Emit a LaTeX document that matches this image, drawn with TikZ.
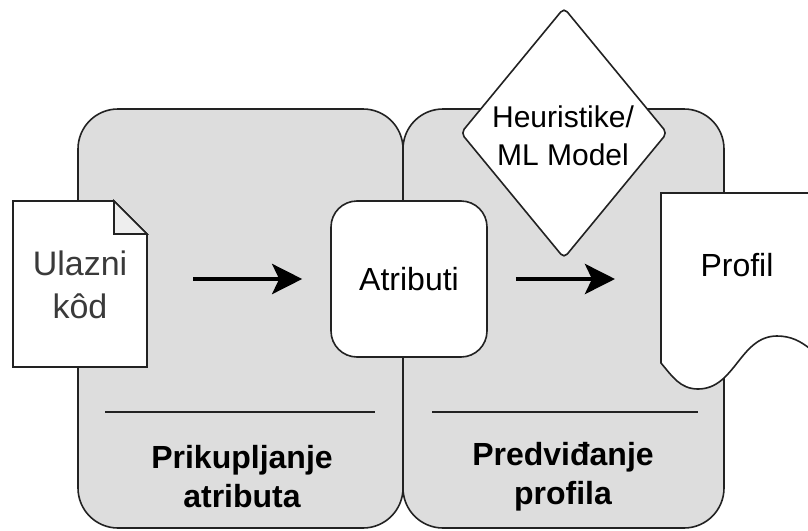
\documentclass[tikz,border=0pt]{standalone}
\usepackage{fontspec}
\setmainfont{Liberation Sans}
\usetikzlibrary{arrows.meta}
\definecolor{panelgray}{HTML}{DDDDDD}
\definecolor{foldgray}{HTML}{EEEEEE}
\definecolor{linegray}{HTML}{222222}
\definecolor{doctext}{HTML}{3A3A3A}
\tikzset{
  panel/.style={draw=linegray, line width=1.6pt, fill=panelgray, rounded corners=40pt},
  sep/.style={draw=linegray, line width=1.4pt},
  shapeline/.style={draw=linegray, line width=1.6pt, fill=white},
  bigarrow/.style={line width=4.5pt, -{Stealth[length=30pt,width=30pt,inset=7pt]}},
  lbl/.style={align=center, inner sep=0pt},
}
\begin{document}
\begin{tikzpicture}[x=1pt,y=-1pt]
\useasboundingbox (0,0) rectangle (808,530);
\clip (0,0) rectangle (808,530);
% panels
\path[panel] (78,109) rectangle (403,528);
\path[panel] (403,109) rectangle (724,528);
\coordinate (s1a) at (105,412); \coordinate (s1b) at (375,412);
\coordinate (s2a) at (432,412); \coordinate (s2b) at (698,412);
\draw[sep] (s1a) -- (s1b);
\draw[sep] (s2a) -- (s2b);
\node[lbl, font=\bfseries\fontsize{32}{39}\selectfont] (lab1) at (242,477) {Prikupljanje\\atributa};
\node[lbl, font=\bfseries\fontsize{32}{39}\selectfont] (lab2) at (563,477) {Predviđanje\\profila};
% document (input code)
\node[minimum width=134pt, minimum height=166pt, inner sep=0pt] (doc) at (80,284) {};
\draw[shapeline, line join=miter] (13,201) -- (114,201) -- (147,234) -- (147,367) -- (13,367) -- cycle;
\draw[draw=linegray, line width=1.6pt, fill=foldgray, line join=miter] (114,201) -- (114,234) -- (147,234) -- cycle;
\node[lbl, text=doctext, font=\fontsize{34}{43}\selectfont] (doctxt) at (80,285) {Ulazni\\kôd};
% attributes
\node[draw=linegray, line width=1.6pt, fill=white, rounded corners=26pt, minimum width=156pt, minimum height=156pt, inner sep=0pt, font=\fontsize{32}{38}\selectfont] (attr) at (409,279) {Atributi};
% diamond
\draw[shapeline, rounded corners=5pt] (564,8) -- (667,133) -- (564,258) -- (461,133) -- cycle;
\node[lbl, font=\fontsize{30}{38}\selectfont] (heur) at (563,136) {Heuristike/\\ML Model};
% profile (document shape with wave)
\draw[shapeline] (661,193) -- (661,363) to[out=-50,in=180] (698,389) to[out=0,in=180] (777,336) to[out=0,in=150] (840,372) -- (840,193) -- cycle;
\node[lbl, font=\fontsize{32}{38}\selectfont] (prof) at (737,265) {Profil};
\coordinate (profw) at (661,279);
% arrows
\path (doc.east) ++(46,0) coordinate (a1s);
\path (attr.west) ++(-28,0) coordinate (a1e);
\path (attr.east) ++(28,0) coordinate (a2s);
\path (profw) ++(-46,0) coordinate (a2e);
\draw[bigarrow] (a1s |- attr.west) -- (a1e);
\draw[bigarrow] (a2s) -- (a2e);
\end{tikzpicture}
\end{document}
